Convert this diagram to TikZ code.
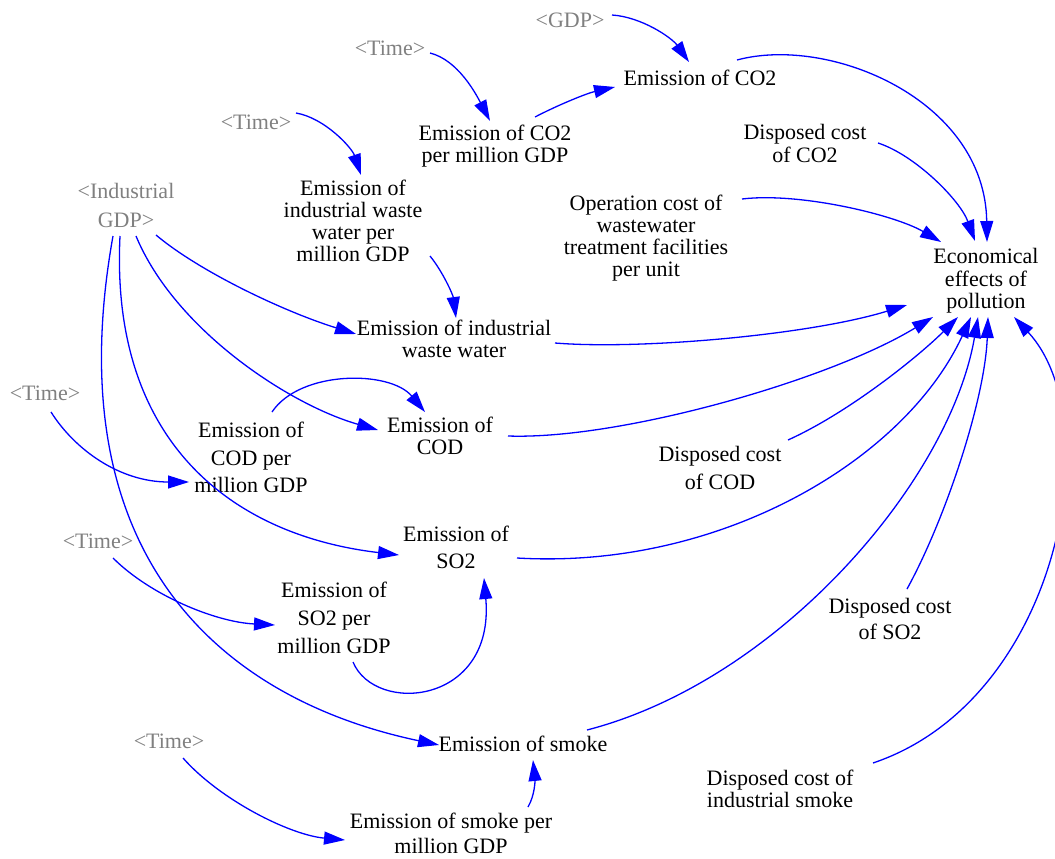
\documentclass[tikz,border=0pt]{standalone}
\usepackage{fontspec}
\setmainfont{Liberation Serif}
\newfontfamily\vfont{Liberation Serif}
\usetikzlibrary{arrows.meta,calc}
\definecolor{vblue}{RGB}{0,0,255}
\definecolor{vgray}{RGB}{128,128,128}
\newcommand\sa{\rule[-6.6pt]{0pt}{28pt}}
\newcommand\sz{\rule[-6.6pt]{0pt}{6.6pt}}
\begin{document}
\begin{tikzpicture}[x=1pt,y=-1pt,
  lbl/.style={align=center,inner sep=0pt,font=\vfont\fontsize{22}{22}\selectfont,
    execute at begin node=\sa,execute at end node=\sz},
  shadowvar/.style={lbl,text=vgray},
  loose/.style={font=\vfont\fontsize{22}{#1}\selectfont},
  link/.style={draw=vblue,line width=1.3pt,-{Triangle[length=21pt,width=13pt]}}]
\useasboundingbox (0,0) rectangle (1055,859);

% shadow variables
\node[shadowvar] (gdp) at (570,20) {<GDP>};
\node[shadowvar] (timeA) at (390,48) {<Time>};
\node[shadowvar] (timeB) at (256,122) {<Time>};
\node[shadowvar,loose=29] (indgdp) at (126,206) {\sa<Industrial\\GDP>\sz};
\node[shadowvar] (timeC) at (45,393) {<Time>};
\node[shadowvar] (timeD) at (98,541) {<Time>};
\node[shadowvar] (timeE) at (169,741) {<Time>};

% variables
\node[lbl] (co2) at (700,78) {Emission of CO2};
\node[lbl] (co2pm) at (495,144) {\sa Emission of CO2\\per million GDP\sz};
\node[lbl] (wwpm) at (353,221) {\sa Emission of\\industrial waste\\water per\\million GDP\sz};
\node[lbl] (dco2) at (805,144) {\sa Disposed cost\\of CO2\sz};
\node[lbl] (opc) at (646,236) {\sa Operation cost of\\wastewater\\treatment facilities\\per unit\sz};
\node[lbl] (econ) at (986,279) {\sa Economical\\effects of\\pollution\sz};
\node[lbl] (ww) at (454,339) {\sa Emission of industrial\\waste water\sz};
\node[lbl] (cod) at (440,436) {\sa Emission of\\COD\sz};
\node[lbl,loose=27.5] (codpm) at (251,458) {\sa Emission of\\COD per\\million GDP\sz};
\node[lbl,loose=27] (so2) at (456,548) {\sa Emission of\\SO2\sz};
\node[lbl,loose=28] (so2pm) at (334,618) {\sa Emission of\\SO2 per\\million GDP\sz};
\node[lbl,loose=28] (dcod) at (720,468) {\sa Disposed cost\\of COD\sz};
\node[lbl,loose=26] (dso2) at (890,619) {\sa Disposed cost\\of SO2\sz};
\node[lbl] (smoke) at (523,744) {Emission of smoke};
\node[lbl,loose=25] (smokepm) at (451,834) {\sa Emission of smoke per\\million GDP\sz};
\node[lbl] (dsmoke) at (780,789) {\sa Disposed cost of\\industrial smoke\sz};

% connectors
\draw[link] ($(gdp.center)+(42,-5)$) .. controls (642,17) and (672,38) .. ($(co2.center)+(-11,-16)$);
\draw[link] ($(timeA.center)+(40,5)$) .. controls (458,60) and (476,94) .. ($(co2pm.center)+(-5,-23)$);
\draw[link] ($(co2pm.center)+(40,-27)$) .. controls (560,104) and (588,93) .. ($(co2.center)+(-85,9)$);
\draw[link] ($(co2.center)+(37,-18)$) .. controls (830,35) and (985,100) .. ($(econ.center)+(1,-37)$);
\draw[link] ($(dco2.center)+(73,-1)$) .. controls (915,155) and (960,200) .. ($(econ.center)+(-11,-38)$);
\draw[link] ($(opc.center)+(96,-37)$) .. controls (800,192) and (895,215) .. ($(econ.center)+(-45,-37)$);
\draw[link] ($(timeB.center)+(40,-9)$) .. controls (325,118) and (352,148) .. ($(wwpm.center)+(8,-46)$);
\draw[link] ($(wwpm.center)+(77,35)$) .. controls (443,272) and (453,295) .. ($(ww.center)+(2,-21)$);
\draw[link] ($(indgdp.center)+(30,29)$) .. controls (200,272) and (285,312) .. ($(ww.center)+(-98,-5)$);
\draw[link] ($(indgdp.center)+(10,30)$) .. controls (175,330) and (290,405) .. ($(cod.center)+(-62,-6)$);
\draw[link] ($(indgdp.center)+(-6,30)$) .. controls (110,440) and (230,535) .. ($(so2.center)+(-57,7)$);
\draw[link] ($(indgdp.center)+(-13,30)$) .. controls (55,560) and (225,700) .. ($(smoke.center)+(-84,1)$);
\draw[link] ($(timeC.center)+(6,19)$) .. controls (75,450) and (120,482) .. ($(codpm.center)+(-62,24)$);
\draw[link] ($(codpm.center)+(21,-46)$) .. controls (300,370) and (390,370) .. ($(cod.center)+(-15,-24)$);
\draw[link] ($(ww.center)+(101,4)$) .. controls (640,350) and (810,335) .. ($(econ.center)+(-79,26)$);
\draw[link] ($(cod.center)+(68,0)$) .. controls (620,440) and (830,380) .. ($(econ.center)+(-53,38)$);
\draw[link] ($(dcod.center)+(68,-28)$) .. controls (850,412) and (920,355) .. ($(econ.center)+(-28,38)$);
\draw[link] ($(so2.center)+(61,10)$) .. controls (720,570) and (905,460) .. ($(econ.center)+(-15,38)$);
\draw[link] ($(smoke.center)+(64,-14)$) .. controls (780,680) and (950,480) .. ($(econ.center)+(-8,38)$);
\draw[link] ($(dso2.center)+(17,-30)$) .. controls (945,520) and (985,400) .. ($(econ.center)+(2,38)$);
\draw[link] ($(dsmoke.center)+(93,-26)$) .. controls (1060,700) and (1110,420) .. ($(econ.center)+(28,38)$);
\draw[link] ($(timeD.center)+(15,17)$) .. controls (150,595) and (215,622) .. ($(so2pm.center)+(-59,7)$);
\draw[link] ($(so2pm.center)+(19,44)$) .. controls (375,715) and (495,705) .. ($(so2.center)+(28,30)$);
\draw[link] ($(timeE.center)+(14,17)$) .. controls (220,800) and (290,835) .. ($(smokepm.center)+(-106,6)$);
\draw[link] ($(smokepm.center)+(77,-27)$) .. controls (535,795) and (535,780) .. ($(smoke.center)+(10,16)$);
\end{tikzpicture}
\end{document}
